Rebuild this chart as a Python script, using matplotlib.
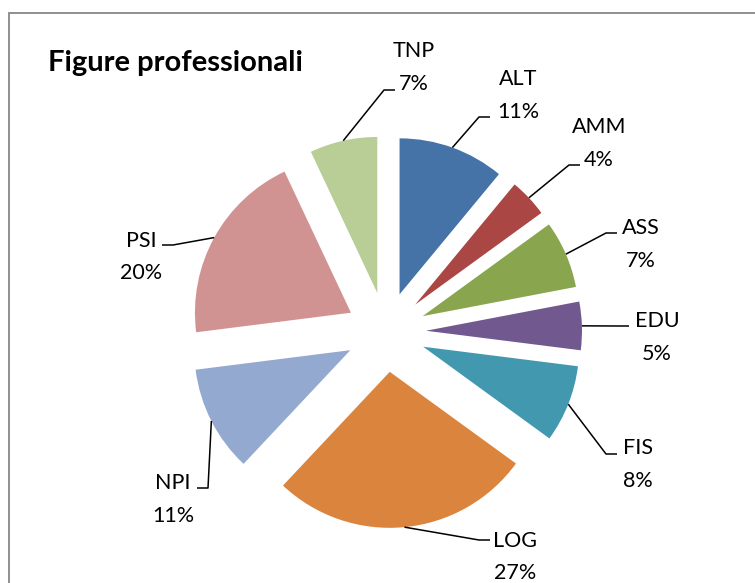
import math
import matplotlib
matplotlib.use("Agg")
import matplotlib.pyplot as plt
from matplotlib.patches import Rectangle

# ---- data ----
categories = ["ALT", "AMM", "ASS", "EDU", "FIS", "LOG", "NPI", "PSI", "TNP"]
percentages = [11, 4, 7, 5, 8, 27, 11, 20, 7]
colors = ["#4572A7", "#AA4643", "#89A54E", "#71588F", "#4198AF",
          "#DB843D", "#93A9CF", "#D19392", "#B9CD96"]
title = "Figure professionali"

# ---- layout (pixel coordinates, y measured from top) ----
W, H = 755, 583
pie_center = (386, 332)
pie_radius = 156
explode_px = 40
# label text: x center, name baseline, pct baseline
label_pos = {
    "ALT": (518, 85, 118),
    "AMM": (599, 133, 166),
    "ASS": (641, 234, 267),
    "EDU": (657, 327, 360),
    "FIS": (638, 454, 487),
    "LOG": (515, 547, 579),
    "NPI": (173, 489, 522),
    "PSI": (141, 247, 279),
    "TNP": (414, 57, 90),
}
# leader: end x, y, side (+1 right, -1 left)
leader = {
    "ALT": (490, 117, 1),
    "AMM": (580, 165, 1),
    "ASS": (617, 233, 1),
    "EDU": (629, 326, 1),
    "FIS": (617, 454, 1),
    "LOG": (490, 540, 1),
    "NPI": (197, 488, -1),
    "PSI": (162, 245, -1),
    "TNP": (395, 90, 1),
}

fig = plt.figure(figsize=(W / 100, H / 100), dpi=100)
ax = fig.add_axes([0, 0, 1, 1])

wedges, _ = ax.pie(percentages, colors=colors, startangle=90, counterclock=False,
                   radius=pie_radius, center=(pie_center[0], H - pie_center[1]),
                   explode=[explode_px] * len(percentages),
                   wedgeprops=dict(linewidth=0))
ax.set_xlim(0, W)
ax.set_ylim(0, H)
ax.set_aspect("equal")
ax.axis("off")

font = "Lato"
for w, cat, pct in zip(wedges, categories, percentages):
    th = math.radians((w.theta1 + w.theta2) / 2)
    ax_x = w.center[0] + w.r * math.cos(th)
    ax_y = w.center[1] + w.r * math.sin(th)
    ex, ey, side = leader[cat]
    elbow_x = ex - side * 11
    ax.plot([ax_x, elbow_x, ex], [ax_y, H - ey, H - ey], color="black", lw=1.1,
            solid_capstyle="butt")
    tx, nb, pb = label_pos[cat]
    ax.text(tx, H - nb, cat, ha="center", va="baseline", fontsize=15.5, family=font)
    ax.text(tx, H - pb, f"{pct}%", ha="center", va="baseline", fontsize=15.5, family=font)

ax.text(48, H - 71, title, ha="left", va="baseline", fontsize=21,
        fontweight="bold", family=font)

ax.add_patch(Rectangle((9, -20), W + 20, H - 13 + 20, fill=False,
                       edgecolor="#878787", lw=1.3, clip_on=True))

fig.savefig("out.png", dpi=100)
